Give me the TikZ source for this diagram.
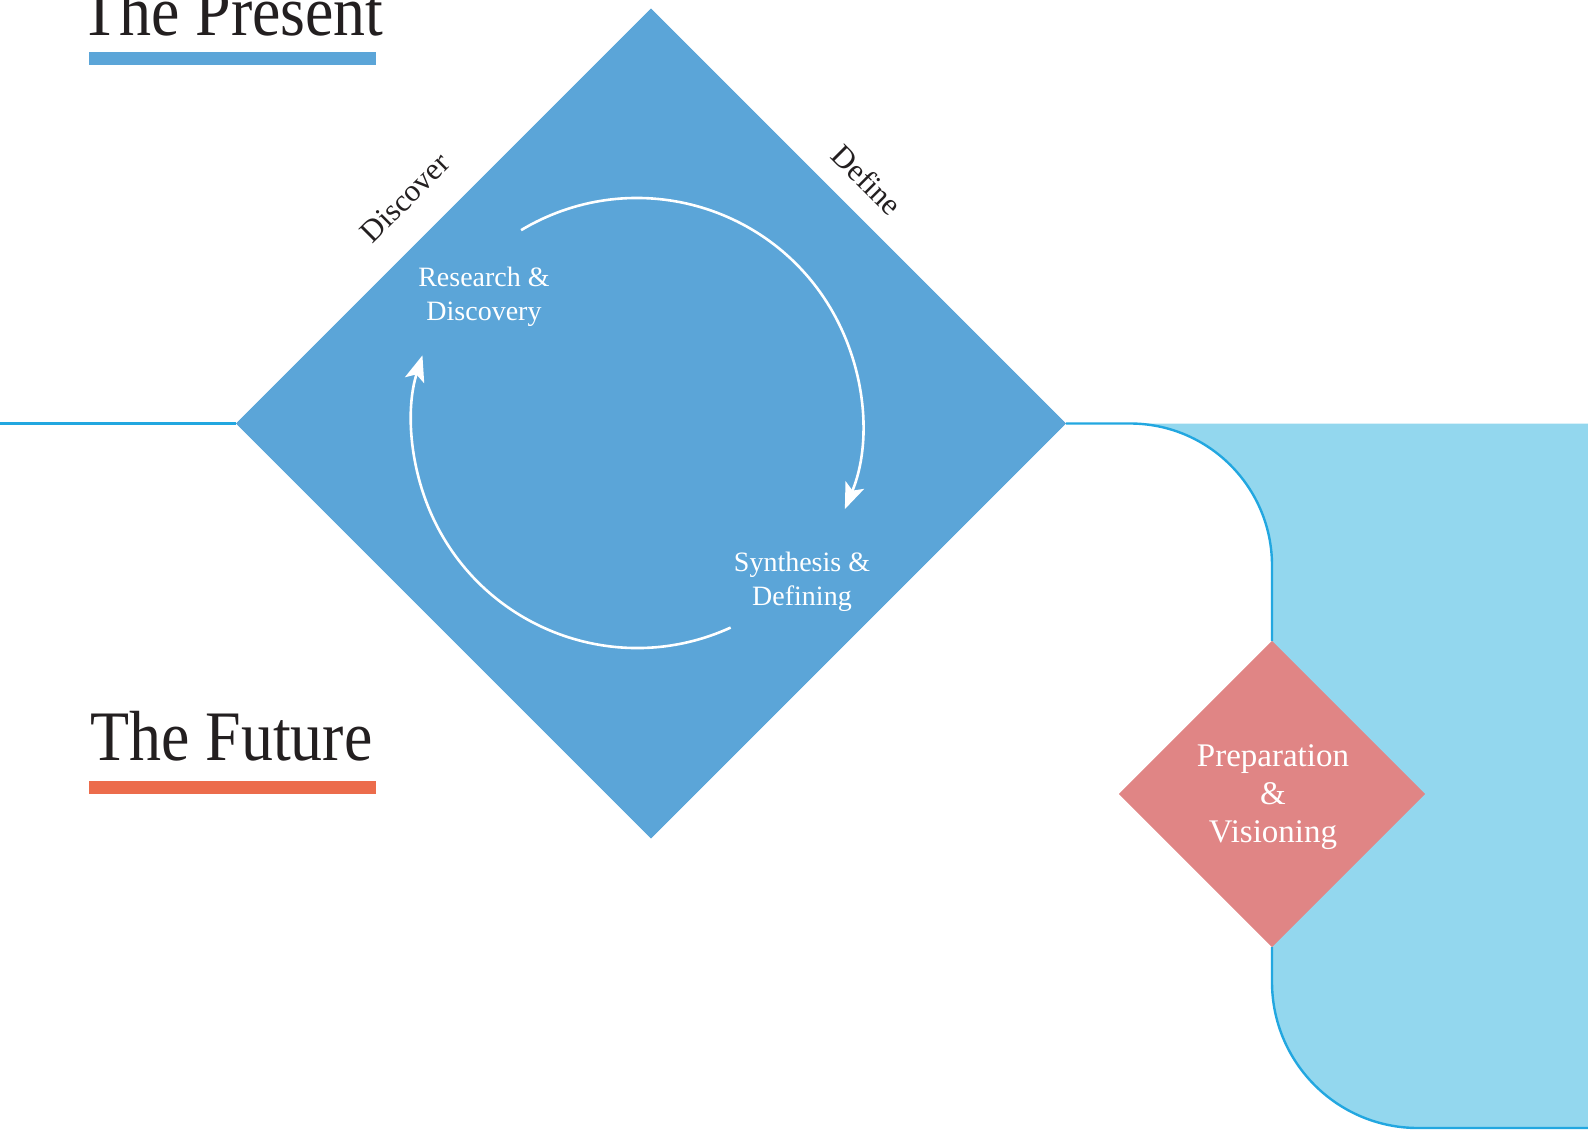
\documentclass[tikz,border=0pt]{standalone}
\usepackage{fontspec}
\usepackage{graphicx}
\setmainfont{Liberation Serif}
\usetikzlibrary{shapes.geometric,arrows.meta}
\definecolor{diablue}{HTML}{5BA5D8}
\definecolor{lightreg}{HTML}{93D7EE}
\definecolor{linecol}{HTML}{22A7E0}
\definecolor{pinkc}{HTML}{E08585}
\definecolor{orangec}{HTML}{EC6C4C}
\definecolor{textblack}{HTML}{231F20}
\tikzset{
  flowline/.style={draw=linecol, line width=2.4pt},
  bigdiamond/.style={diamond, aspect=1, fill=diablue, inner sep=0pt, minimum width=830pt, minimum height=830pt},
  smalldiamond/.style={diamond, aspect=1, fill=pinkc, inner sep=0pt, minimum width=306pt, minimum height=306pt},
  titletext/.style={text=textblack, inner sep=0pt, font=\fontsize{71}{80}\selectfont, anchor=base west},
  edgetext/.style={text=textblack, inner sep=0pt, font=\fontsize{31}{36}\selectfont},
  innertext/.style={text=white, align=center, inner sep=0pt, font=\fontsize{28}{34}\selectfont},
  cyclearrow/.style={draw=white, line width=2.6pt, -{Stealth[length=26pt,width=20pt,inset=6pt]}},
}
\begin{document}
\begin{tikzpicture}[x=1pt,y=-1pt]
\useasboundingbox (0,0) rectangle (1588,1133);
% light blue region
\fill[lightreg] (1588,423.5) -- (1130,423.5) arc[start angle=-90,end angle=0,radius=142] -- (1272,982) arc[start angle=180,end angle=90,radius=146] -- (1588,1128) -- cycle;
% nodes
\coordinate (lstart) at (0,423.5);
\coordinate (rend) at (1588,1128);
\node[bigdiamond] (bigdia) at (651,423.5) {};
\node[smalldiamond] (pinkdia) at (1272,794) {};
% flow line
\draw[flowline] (lstart) -- (bigdia.west);
\draw[flowline] (bigdia.east) -- (1130,423.5) arc[start angle=-90,end angle=0,radius=142] -- (pinkdia.north);
\draw[flowline] (pinkdia.south) -- (1272,982) arc[start angle=180,end angle=90,radius=146] -- (rend);
% redraw diamonds on top
\node[bigdiamond] at (bigdia.center) {};
\node[smalldiamond] at (pinkdia.center) {};
% cycle arrows
\coordinate (cc) at (637,423);
\draw[cyclearrow] (cc) ++(-121:225) arc[start angle=-121,end angle=22.5,radius=225];
\draw[cyclearrow] (cc) ++(65.4:225) arc[start angle=65.4,end angle=197.5,radius=225];
% labels
\node[innertext] (rd) at (484,297) {Research \&\\Discovery};
\node[innertext] (sd) at (802,582) {Synthesis \&\\Defining};
\node[innertext, font=\fontsize{33}{38}\selectfont] (pv) at (1273,797) {Preparation\\\&\\Visioning};
\node[edgetext, rotate=45] (disc) at (405,198) {Discover};
\node[edgetext, rotate=-45] (defn) at (867,180) {Define};
% titles
\node[titletext] (present) at (80,35) {\scalebox{0.9}[1]{The Present}};
\node[titletext] (future) at (90,760) {\scalebox{0.9}[1]{The Future}};
\fill[diablue] (89,52) rectangle (376,65);
\fill[orangec] (89,781) rectangle (376,794);
\end{tikzpicture}
\end{document}
